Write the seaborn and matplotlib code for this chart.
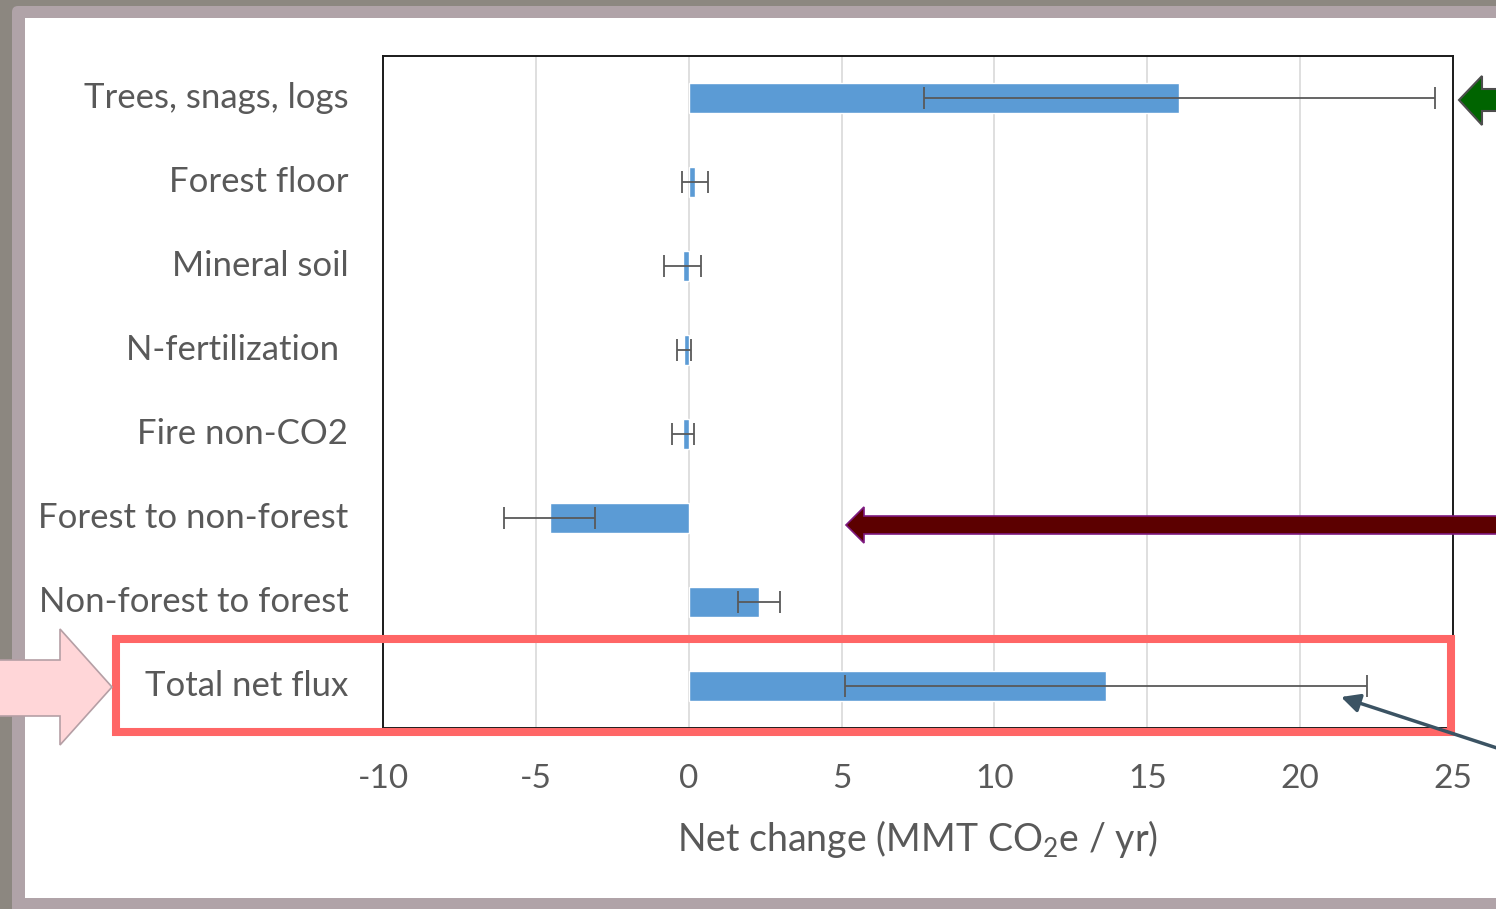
import matplotlib
matplotlib.use("Agg")
import matplotlib.pyplot as plt
from matplotlib.patches import Polygon, Rectangle, FancyArrowPatch, FancyBboxPatch
from matplotlib.transforms import Affine2D
import pandas as pd
import seaborn as sns

# Carbon pool net change estimates with uncertainty half-widths
categories = [
    "Trees, snags, logs",
    "Forest floor",
    "Mineral soil",
    "N-fertilization ",
    "Fire non-CO2",
    "Forest to non-forest",
    "Non-forest to forest",
    "Total net flux",
]
net_change = [16.05, 0.2, -0.2, -0.15, -0.2, -4.55, 2.3, 13.65]
uncertainty = [8.35, 0.42, 0.6, 0.22, 0.36, 1.5, 0.7, 8.55]
x_ticks = [-10, -5, 0, 5, 10, 15, 20, 25]

W, H = 1496, 909
FONT = "Lato"
TEXT_GREY = "#595959"
BAR_BLUE = "#5B9BD5"

sns.set_theme(style="white")
plt.rcParams["font.family"] = [FONT, "DejaVu Sans"]
plt.rcParams["mathtext.fontset"] = "custom"
plt.rcParams["mathtext.rm"] = FONT

fig = plt.figure(figsize=(W / 100, H / 100), dpi=100, facecolor="#8C8780")
pix = Affine2D().scale(1 / W, -1 / H).translate(0, 1) + fig.transFigure

# slide frame: mauve border around a white panel
fig.add_artist(FancyBboxPatch((12, 6), W + 40, H + 40, boxstyle="round,pad=0,rounding_size=6",
                              transform=pix, facecolor="#B0A3A8", edgecolor="none", zorder=0))
fig.add_artist(Rectangle((25, 18), W, 880, transform=pix, facecolor="white",
                         edgecolor="none", zorder=0.5))

ax = fig.add_axes([383 / W, 1 - 728 / H, (1453 - 383) / W, (728 - 56) / H])
ax.set_zorder(2)
ax.set_facecolor("white")

df = pd.DataFrame({"category": categories, "value": net_change})
sns.barplot(data=df, x="value", y="category", orient="h", order=categories,
            color=BAR_BLUE, saturation=1, width=0.36, ax=ax, zorder=3)
ax.errorbar(net_change, list(range(len(categories))), xerr=uncertainty, fmt="none",
            ecolor=TEXT_GREY, elinewidth=1.3, capsize=8, capthick=1.3, zorder=4)

ax.set_xlim(x_ticks[0], x_ticks[-1])
ax.set_ylim(len(categories) - 0.5, -0.5)
ax.set_xticks(x_ticks)
ax.set_xticklabels([str(t) for t in x_ticks])
ax.xaxis.grid(True, color="#D9D9D9", linewidth=1.2, zorder=0)
ax.yaxis.grid(False)
ax.set_axisbelow(True)
ax.tick_params(axis="x", length=0, colors=TEXT_GREY, labelsize=24, pad=26)
ax.tick_params(axis="y", length=0, colors=TEXT_GREY, labelsize=25, pad=25)
for lbl in ax.get_yticklabels():
    lbl.set_verticalalignment("center")
ax.set_ylabel("")
ax.set_xlabel(r"Net change (MMT CO$_\mathregular{2}$e / yr)", fontsize=27,
              color=TEXT_GREY, labelpad=17)
for s in ax.spines.values():
    s.set_visible(True)
    s.set_color("#1A1A1A")
    s.set_linewidth(1.4)

# highlight box around the total
fig.add_artist(Rectangle((116, 638.5), 1335.5, 93, transform=pix, fill=False,
                         edgecolor="#FF6666", linewidth=5.8, zorder=10))

# pink pointer on the left
fig.add_artist(Polygon([(-5, 660), (60, 660), (60, 629), (112, 687), (60, 745), (60, 716), (-5, 716)],
                       closed=True, transform=pix, facecolor="#FFD6D8", edgecolor="#B59FA5",
                       linewidth=1.2, zorder=11))

# green pointer on the right
fig.add_artist(Polygon([(1510, 89), (1482, 89), (1482, 76), (1459, 100), (1482, 125), (1482, 111), (1510, 111)],
                       closed=True, transform=pix, facecolor="#006400", edgecolor="#4D4D4D",
                       linewidth=1.5, zorder=11))

# maroon pointer across the plot
fig.add_artist(Polygon([(1510, 516), (864, 516), (864, 507), (846, 525), (864, 543), (864, 534), (1510, 534)],
                       closed=True, transform=pix, facecolor="#5C0000", edgecolor="#7E1A80",
                       linewidth=1.2, zorder=11))

# slate arrow onto the total's error bar
fig.add_artist(FancyArrowPatch((1500, 749), (1341, 697), transform=pix, arrowstyle="-|>",
                               mutation_scale=28, color="#3B5363", linewidth=2.5,
                               shrinkA=0, shrinkB=0, zorder=12))

fig.savefig("out.png", dpi=100, facecolor=fig.get_facecolor())
